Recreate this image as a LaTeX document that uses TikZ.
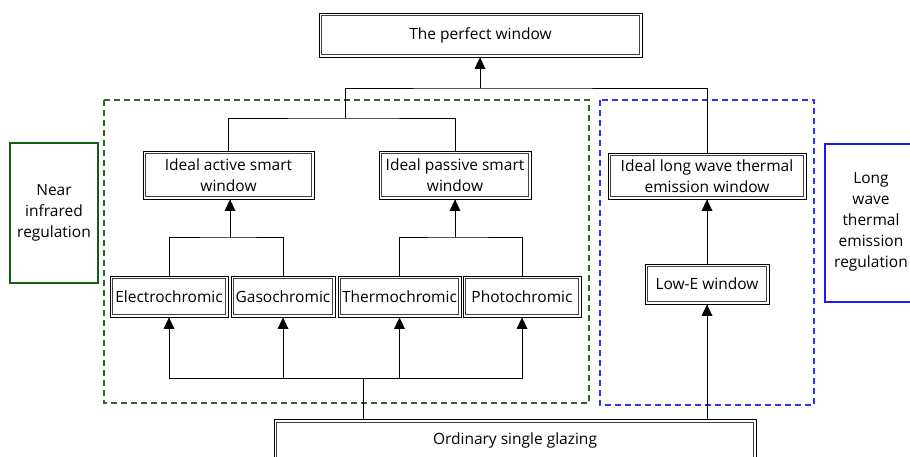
\documentclass[tikz,border=0pt]{standalone}
\usepackage{fontspec}
\setmainfont{Open Sans}
\definecolor{dgreen}{RGB}{20,95,20}
\definecolor{lgreen}{RGB}{40,105,40}
\definecolor{dblue}{RGB}{25,25,250}
\definecolor{lblue}{RGB}{50,50,245}
\tikzset{
  dbox/.style={draw=black, line width=0.9pt, fill=white,
    rectangle, align=center, inner sep=0pt, font=\fontsize{15.5}{21}\selectfont,
    path picture={\draw[black!75, line width=1.2pt]
      ([shift={(2.8pt,-2.8pt)}]path picture bounding box.north west) rectangle
      ([shift={(-2.8pt,2.8pt)}]path picture bounding box.south east);}},
  ln/.style={line width=0.8pt},
  tip/.style={fill=black},
  lab/.style={rectangle, line width=1.6pt, align=center, inner sep=0pt, font=\fontsize{15.5}{21}\selectfont}
}
\newcommand{\uptip}[1]{\fill[tip] (#1) -- +(-5.5,11.5) -- +(5.5,11.5) -- cycle;}
\begin{document}
\begin{tikzpicture}[x=1pt,y=-1pt]
\useasboundingbox (0,0) rectangle (910,457);
% dashed regions
\draw[lgreen, line width=1.4pt, dash pattern=on 6pt off 4pt] (104,100) rectangle (589,403);
\draw[lblue, line width=1.4pt, dash pattern=on 6pt off 4pt] (600,100) rectangle (814,405);
% labels
\node[lab, draw=dgreen, minimum width=88pt, minimum height=140pt] (nir) at (54,213) {Near\\infrared\\regulation};
\node[lab, draw=dblue, minimum width=100pt, minimum height=158pt, anchor=north west] (lw) at (824,143) {};
\node[align=center, inner sep=0pt, font=\fontsize{15.5}{21}\selectfont] (lwt) at (871,222) {Long\\wave\\thermal\\emission\\regulation};
% nodes
\node[dbox, minimum width=323pt, minimum height=44pt] (perfect) at (480.5,35) {The perfect window};
\node[dbox, minimum width=171pt, minimum height=48pt] (active) at (228.5,175) {Ideal active smart\\window};
\node[dbox, minimum width=152pt, minimum height=48pt] (passive) at (455,175) {Ideal passive smart\\window};
\node[dbox, minimum width=198pt, minimum height=46pt] (longwave) at (707,176) {Ideal long wave thermal\\emission window};
\node[dbox, minimum width=118pt, minimum height=41pt] (elec) at (169,296.5) {Electrochromic};
\node[dbox, minimum width=104pt, minimum height=41pt] (gaso) at (283,296.5) {Gasochromic};
\node[dbox, minimum width=123pt, minimum height=41pt] (thermo) at (399.5,296.5) {Thermochromic};
\node[dbox, minimum width=118pt, minimum height=41pt] (photo) at (522,296.5) {Photochromic};
\node[dbox, minimum width=124pt, minimum height=40pt] (lowe) at (707,284) {Low-E window};
\node[dbox, minimum width=482pt, minimum height=42pt, anchor=north] (glaz) at (515,419) {Ordinary single glazing};
% bus coordinates
\coordinate (busT) at (480,88);
\coordinate (busM) at (345,118);
\coordinate (busA) at (230,237);
\coordinate (busP) at (455,237);
\coordinate (busB) at (363,378);
% top
\draw[ln] (busT) -- (busT |- perfect.south); \uptip{busT |- perfect.south}
\draw[ln] (busM) |- (busT) -| (longwave.north);
\draw[ln] (active.north) |- (busM) -| (passive.north);
\draw[ln] (busA) -- (busA |- active.south); \uptip{busA |- active.south}
\draw[ln] (busP) -- (passive.south); \uptip{passive.south}
\draw[ln] (elec.north) |- (busA) -| (gaso.north);
\draw[ln] (thermo.north) |- (busP) -| (photo.north);
% bottom
\draw[ln] (busB) -- (busB |- glaz.north);
\draw[ln] (busB) -| (elec.south); \uptip{elec.south}
\draw[ln] (busB) -| (gaso.south); \uptip{gaso.south}
\draw[ln] (busB) -| (thermo.south); \uptip{thermo.south}
\draw[ln] (busB) -| (photo.south); \uptip{photo.south}
\draw[ln] (lowe.south |- glaz.north) -- (lowe.south); \uptip{lowe.south}
\draw[ln] (lowe.north) -- (longwave.south); \uptip{longwave.south}
\end{tikzpicture}
\end{document}
